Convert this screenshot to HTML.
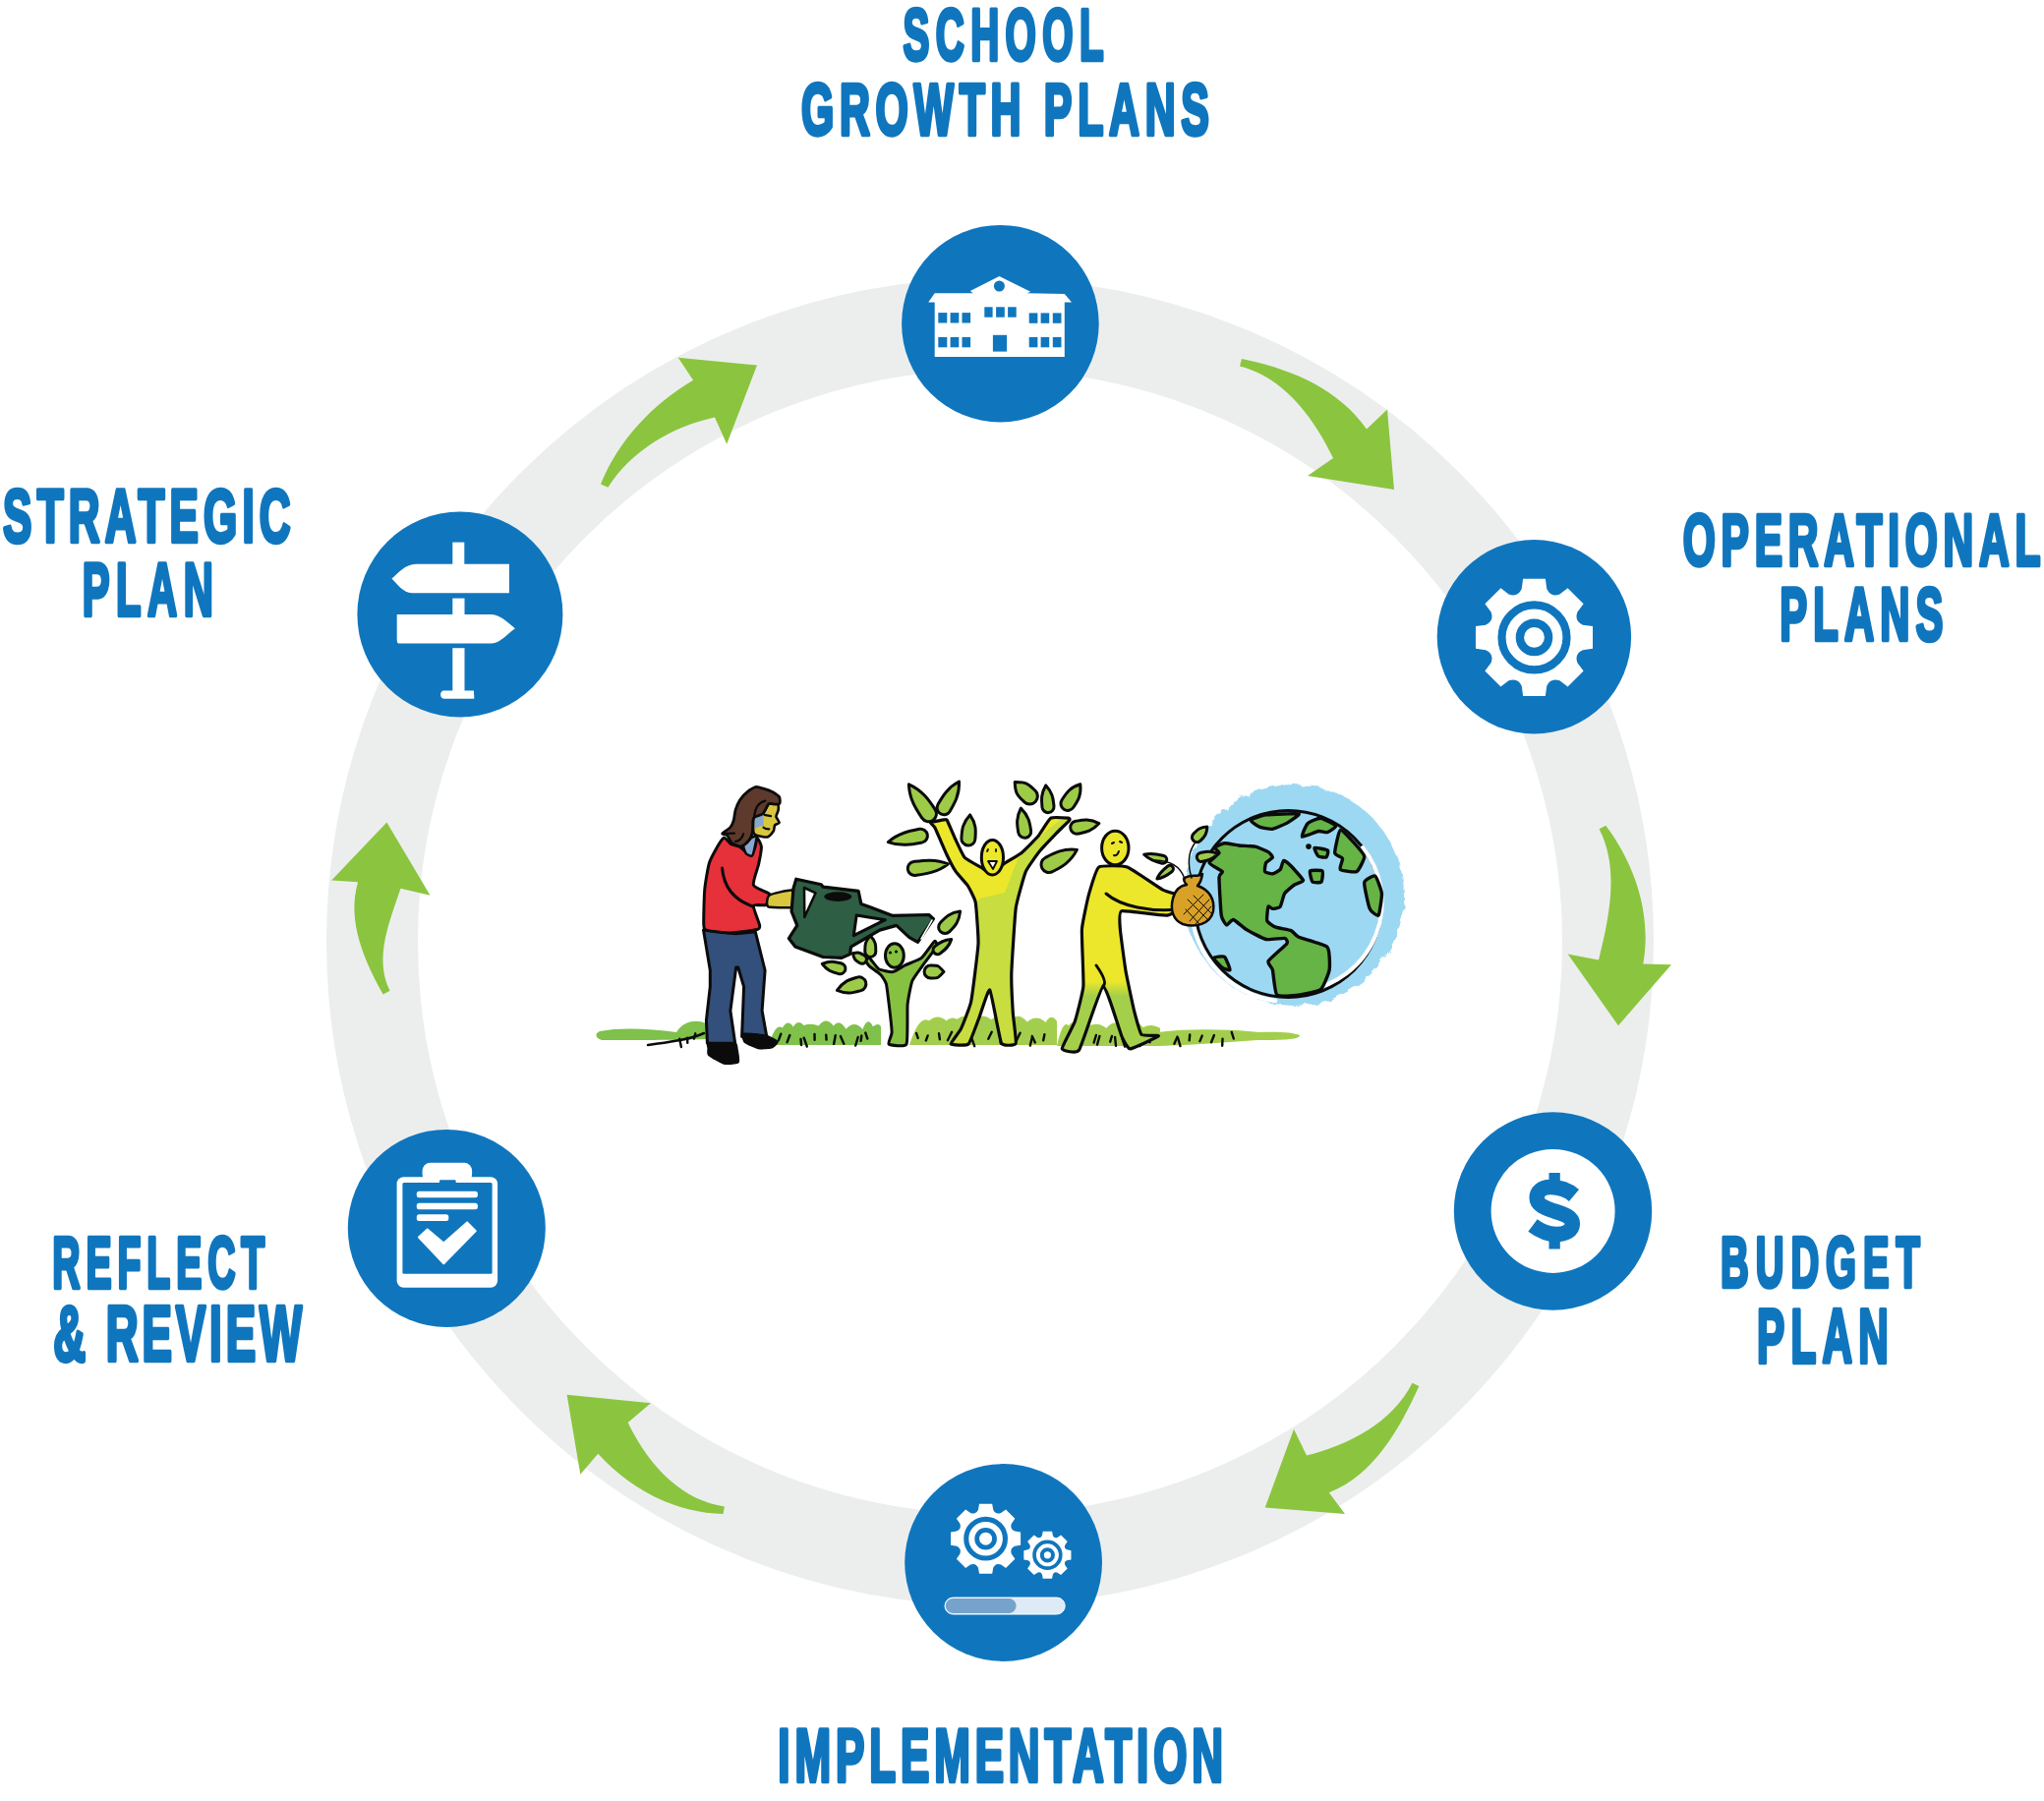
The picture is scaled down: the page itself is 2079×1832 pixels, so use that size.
<!DOCTYPE html>
<html>
<head>
<meta charset="utf-8">
<style>
html,body{margin:0;padding:0;background:#fff;}
body{width:2079px;height:1832px;overflow:hidden;position:relative;}
svg{position:absolute;left:0;top:0;display:block;}
.t{font-family:"Liberation Sans",sans-serif;font-weight:bold;fill:#0F76BE;stroke:#0F76BE;stroke-width:4.5;stroke-linejoin:round;}
</style>
</head>
<body>
<svg width="2079" height="1832" viewBox="0 0 2079 1832">
<!-- ring -->
<circle cx="1007" cy="958" r="628.5" fill="none" stroke="#ECEEEE" stroke-width="93"/>

<!-- arrows -->
<g fill="#8BC53F">
<path d="M1263.0,365.0 C1311.2,374.8 1360.9,394.5 1390.0,436.5 L1411.0,416.5 L1418.0,498.0 L1330.0,484.0 L1356.0,466.0 C1336.4,425.6 1306.9,384.5 1261.0,372.5Z"/>
<path d="M1633.3,839.7 C1663.3,879.6 1680.2,930.6 1671.3,980.6 L1700.0,981.2 L1646.0,1043.2 L1594.7,970.6 L1626.0,976.6 C1636.4,934.1 1647.7,884.3 1626.6,843.3Z"/>
<path d="M1436.4,1406.7 C1416.0,1447.6 1371.3,1469.7 1329.0,1480.6 L1316.0,1453.7 L1286.7,1533.6 L1368.0,1540.1 L1351.8,1518.3 C1398.1,1500.0 1423.7,1452.8 1443.4,1410.0Z"/>
<path d="M736.9,1532.4 C690.5,1525.7 657.8,1487.0 638.7,1447.0 L662.0,1427.2 L576.6,1418.8 L590.3,1499.8 L608.3,1478.7 C640.5,1514.3 686.6,1539.3 735.6,1539.9Z"/>
<path d="M389.6,1011.6 C370.9,977.6 352.3,936.9 364.1,897.3 L337.2,895.4 L393.4,836.6 L437.5,910.7 L407.5,903.7 C396.8,935.9 379.9,974.4 396.6,1007.7Z"/>
<path d="M611.0,492.4 C629.1,447.9 663.8,410.8 705.0,386.7 L689.8,363.7 L770.0,371.5 L739.2,451.8 L727.0,424.4 C684.0,433.8 642.3,457.9 618.4,495.8Z"/>
</g>

<!-- icon circles -->
<g fill="#0F76BE">
<circle cx="1017.4" cy="329.2" r="100.3"/>
<circle cx="467.9" cy="625" r="104.5"/>
<circle cx="1560.4" cy="647.8" r="98.7"/>
<circle cx="1579.5" cy="1232" r="100.7"/>
<circle cx="454.3" cy="1249.4" r="100.5"/>
<circle cx="1020.6" cy="1589.5" r="100.4"/>
</g>

<!-- labels -->
<g class="t">
<text transform="translate(918.53,61.35) scale(0.5456,1)" font-size="73.67" textLength="373.81" lengthAdjust="spacing">SCHOOL</text>
<text transform="translate(814.93,136.55) scale(0.5731,1)" font-size="74.71" textLength="724.00" lengthAdjust="spacing">GROWTH PLANS</text>
<text transform="translate(3.12,550.75) scale(0.5809,1)" font-size="75.77" textLength="503.59" lengthAdjust="spacing">STRATEGIC</text>
<text transform="translate(83.73,626.15) scale(0.5456,1)" font-size="76.40" textLength="244.05" lengthAdjust="spacing">PLAN</text>
<text transform="translate(1711.73,575.35) scale(0.5717,1)" font-size="74.32" textLength="636.23" lengthAdjust="spacing">OPERATIONAL</text>
<text transform="translate(1810.32,650.95) scale(0.5536,1)" font-size="75.49" textLength="300.13" lengthAdjust="spacing">PLANS</text>
<text transform="translate(1749.93,1309.35) scale(0.5467,1)" font-size="72.74" textLength="371.23" lengthAdjust="spacing">BUDGET</text>
<text transform="translate(1786.93,1385.55) scale(0.5465,1)" font-size="77.33" textLength="245.10" lengthAdjust="spacing">PLAN</text>
<text transform="translate(53.32,1310.35) scale(0.5256,1)" font-size="74.45" textLength="410.83" lengthAdjust="spacing">REFLECT</text>
<text transform="translate(54.32,1383.95) scale(0.5775,1)" font-size="79.06" textLength="437.65" lengthAdjust="spacing">&amp; REVIEW</text>
<text transform="translate(791.32,1811.95) scale(0.5732,1)" font-size="76.68" textLength="789.83" lengthAdjust="spacing">IMPLEMENTATION</text>
</g>

<!-- ICONS -->
<g fill="#fff">
<!-- school -->
<path d="M944.2,307.5 L950.7,298.2 L989.7,298.2 L986.8,296 L1016.4,281.1 L1048.2,296.7 L1044.6,298.2 L1082.8,298.9 L1090,307.5 L1082.8,307.5 L1082.8,363.1 L950.7,363.1 L950.7,307.5 Z"/>
</g>
<g fill="#0F76BE">
<circle cx="1016.4" cy="291" r="5.5"/>
<rect x="954.3" y="318.1" width="9" height="10.4"/><rect x="966.6" y="318.1" width="8.7" height="10.4"/><rect x="978.5" y="318.1" width="8.6" height="10.4"/>
<rect x="1001.3" y="312.3" width="8.3" height="10.4"/><rect x="1013.1" y="312.3" width="8.7" height="10.4"/><rect x="1025.1" y="312.3" width="8.6" height="10.4"/>
<rect x="1046.7" y="318.4" width="8.7" height="10.4"/><rect x="1058.6" y="318.4" width="8.6" height="10.4"/><rect x="1070.8" y="318.4" width="8.7" height="10.4"/>
<rect x="954.3" y="342.9" width="9" height="10.4"/><rect x="966.6" y="342.9" width="8.7" height="10.4"/><rect x="978.5" y="342.9" width="8.6" height="10.4"/>
<rect x="1046.7" y="342.9" width="8.7" height="10.4"/><rect x="1058.6" y="342.9" width="8.6" height="10.4"/><rect x="1070.8" y="342.9" width="8.7" height="10.4"/>
<rect x="1009.9" y="340.8" width="14.2" height="16.8"/>
</g>
<!-- signpost -->
<g fill="#fff">
<rect x="460.3" y="551.6" width="12" height="22.5"/>
<rect x="460.3" y="608.6" width="12.2" height="16.5"/>
<rect x="460.3" y="659.2" width="12.2" height="44"/>
<path d="M451.5,702.6 L481.9,702.6 L482.3,710.8 L451.5,710.8 C447,710.8 447,702.6 451.5,702.6 Z"/>
<path d="M398.4,588.6 C405,583 412,574 423,573.7 L517.9,573.7 L517.9,603.3 L419,603.3 C410,603 405,595 398.4,588.6 Z"/>
<path d="M403.7,624.9 L499.3,624.9 C508,625 515,632 523.9,639.3 C515,646 508,654.6 499.3,654.6 L406,654.6 C404,654.6 403.7,652 403.7,650 Z"/>
</g>
<!-- gear operational -->
<path fill="#fff" d="M1547.73,599.02 L1549.14,588.87 L1571.86,588.87 L1573.27,599.02 Q1577.28,607.88 1586.38,604.46 L1586.38,604.46 L1594.56,598.28 L1610.62,614.34 L1604.44,622.52 Q1601.02,631.62 1609.88,635.63 L1609.88,635.63 L1620.03,637.04 L1620.03,659.76 L1609.88,661.17 Q1601.02,665.18 1604.44,674.28 L1604.44,674.28 L1610.62,682.46 L1594.56,698.52 L1586.38,692.34 Q1577.28,688.92 1573.27,697.78 L1573.27,697.78 L1571.86,707.93 L1549.14,707.93 L1547.73,697.78 Q1543.72,688.92 1534.62,692.34 L1534.62,692.34 L1526.44,698.52 L1510.38,682.46 L1516.56,674.28 Q1519.98,665.18 1511.12,661.17 L1511.12,661.17 L1500.97,659.76 L1500.97,637.04 L1511.12,635.63 Q1519.98,631.62 1516.56,622.52 L1516.56,622.52 L1510.38,614.34 L1526.44,598.28 L1534.62,604.46 Q1543.72,607.88 1547.73,599.02Z"/>
<circle cx="1560.5" cy="648.4" r="33" fill="none" stroke="#0F76BE" stroke-width="8.2"/>
<circle cx="1560.5" cy="648.4" r="14.6" fill="none" stroke="#0F76BE" stroke-width="8.4"/>
<!-- budget -->
<circle cx="1579.6" cy="1231.9" r="63" fill="#fff"/>
<g fill="#0F76BE">
<rect x="1575.5" y="1193" width="11.3" height="12"/>
<rect x="1575.5" y="1258" width="11.3" height="12.5"/>
</g>
<path d="M1601,1216 C1594,1210 1585,1207.6 1577,1207.6 C1568,1207.6 1563.2,1212 1563.2,1218.5 C1563.2,1226 1572,1229 1581,1232 C1591,1235 1599.3,1238 1599.3,1245 C1599.3,1252 1592,1255.5 1583,1255.5 C1573,1255.5 1565,1251 1559,1246.5" fill="none" stroke="#0F76BE" stroke-width="15.5"/>
<!-- clipboard -->
<g fill="#fff">
<rect x="403.6" y="1197.2" width="102.5" height="112.6" rx="7"/>
<rect x="429.6" y="1182.8" width="50.5" height="20" rx="8"/>
</g>
<g fill="#0F76BE">
<rect x="409.4" y="1203" width="91.2" height="92.8" rx="1.5"/>
</g>
<g fill="#fff">
<rect x="447" y="1200.2" width="16.6" height="4" rx="1" fill="#0F76BE"/>
<rect x="423.8" y="1211.7" width="62.1" height="6.5" rx="2.5"/>
<rect x="423.8" y="1223.7" width="62.1" height="6.5" rx="2.5"/>
<rect x="423.8" y="1235.2" width="32.5" height="6.8" rx="2.5"/>
<path d="M426,1258.6 L434.7,1250.6 L451.3,1264.4 L475.1,1243.4 L483.8,1252.1 L451.3,1285.3 Z" stroke="#fff" stroke-width="2" stroke-linejoin="round"/>
</g>
<!-- implementation -->
<path fill="#fff" d="M994.96,1535.67 L996.02,1529.70 L1009.18,1529.70 L1010.24,1535.67 Q1012.64,1540.97 1018.08,1538.92 L1018.08,1538.92 L1023.05,1535.45 L1032.35,1544.75 L1028.88,1549.72 Q1026.83,1555.16 1032.13,1557.56 L1032.13,1557.56 L1038.10,1558.62 L1038.10,1571.78 L1032.13,1572.84 Q1026.83,1575.24 1028.88,1580.68 L1028.88,1580.68 L1032.35,1585.65 L1023.05,1594.95 L1018.08,1591.48 Q1012.64,1589.43 1010.24,1594.73 L1010.24,1594.73 L1009.18,1600.70 L996.02,1600.70 L994.96,1594.73 Q992.56,1589.43 987.12,1591.48 L987.12,1591.48 L982.15,1594.95 L972.85,1585.65 L976.32,1580.68 Q978.37,1575.24 973.07,1572.84 L973.07,1572.84 L967.10,1571.78 L967.10,1558.62 L973.07,1557.56 Q978.37,1555.16 976.32,1549.72 L976.32,1549.72 L972.85,1544.75 L982.15,1535.45 L987.12,1538.92 Q992.56,1540.97 994.96,1535.67Z"/>
<circle cx="1002.6" cy="1565.2" r="19.85" fill="none" stroke="#0F76BE" stroke-width="5.1"/>
<circle cx="1002.6" cy="1565.2" r="8.9" fill="none" stroke="#0F76BE" stroke-width="4.8"/>
<path fill="#fff" d="M1059.92,1562.05 L1060.73,1557.75 L1070.07,1557.75 L1070.88,1562.05 Q1072.30,1565.13 1075.49,1563.96 L1075.49,1563.96 L1079.10,1561.49 L1085.71,1568.10 L1083.24,1571.71 Q1082.07,1574.90 1085.15,1576.32 L1085.15,1576.32 L1089.45,1577.13 L1089.45,1586.47 L1085.15,1587.28 Q1082.07,1588.70 1083.24,1591.89 L1083.24,1591.89 L1085.71,1595.50 L1079.10,1602.11 L1075.49,1599.64 Q1072.30,1598.47 1070.88,1601.55 L1070.88,1601.55 L1070.07,1605.85 L1060.73,1605.85 L1059.92,1601.55 Q1058.50,1598.47 1055.31,1599.64 L1055.31,1599.64 L1051.70,1602.11 L1045.09,1595.50 L1047.56,1591.89 Q1048.73,1588.70 1045.65,1587.28 L1045.65,1587.28 L1041.35,1586.47 L1041.35,1577.13 L1045.65,1576.32 Q1048.73,1574.90 1047.56,1571.71 L1047.56,1571.71 L1045.09,1568.10 L1051.70,1561.49 L1055.31,1563.96 Q1058.50,1565.13 1059.92,1562.05Z"/>
<circle cx="1065.4" cy="1581.8" r="13.35" fill="none" stroke="#0F76BE" stroke-width="3.7"/>
<circle cx="1065.4" cy="1581.8" r="5.6" fill="none" stroke="#0F76BE" stroke-width="4"/>
<rect x="961" y="1625.1" width="122.2" height="16.9" rx="8.45" fill="#DDEBF7" stroke="#fff" stroke-width="1"/>
<rect x="961.8" y="1626" width="71.8" height="15" rx="7.5" fill="#76A3CC"/>













<!-- ILLUSTRATION -->
<g stroke-linejoin="round" stroke-linecap="round">
<defs><filter id="crayon" x="-10%" y="-10%" width="120%" height="120%"><feTurbulence type="fractalNoise" baseFrequency="0.09" numOctaves="2" seed="3"/><feDisplacementMap in="SourceGraphic" scale="7"/></filter></defs>
<ellipse cx="1316" cy="910.5" rx="112" ry="112.5" fill="#9DD8F3" filter="url(#crayon)"/>
<path d="M1297,1018 A99,99 0 0 1 1213,935" fill="none" stroke="#fff" stroke-width="4.5"/>
<circle cx="1310.3" cy="919.5" r="95" fill="#9DD8F3" stroke="#0b0b0b" stroke-width="3"/>
<path d="M1386,862 A90,90 0 0 1 1330,1007" fill="none" stroke="#fff" stroke-width="4"/>
<path d="M1245.5,857.8 C1247.5,857.6 1257.4,859.7 1260.0,860.0 C1262.6,860.3 1274.1,860.6 1276.6,861.1 C1279.1,861.6 1288.5,865.7 1290.0,866.6 C1291.5,867.5 1294.6,871.3 1294.4,872.2 C1294.2,873.1 1288.4,876.5 1287.7,877.7 C1287.0,878.9 1286.0,885.7 1286.6,886.6 C1287.2,887.5 1293.1,889.0 1294.4,888.8 C1295.7,888.6 1301.3,885.5 1302.2,884.4 C1303.1,883.3 1304.7,875.9 1305.5,875.5 C1306.3,875.1 1310.5,878.3 1312.2,880.0 C1313.9,881.7 1325.1,893.8 1325.5,895.5 C1325.9,897.2 1318.2,898.9 1316.6,900.0 C1315.0,901.1 1307.8,906.9 1306.6,908.8 C1305.4,910.6 1303.2,920.9 1302.2,922.2 C1301.2,923.5 1295.4,924.4 1294.4,924.4 C1293.4,924.4 1290.5,921.2 1290.0,922.2 C1289.5,923.2 1288.2,934.9 1288.8,936.6 C1289.4,938.4 1295.7,942.4 1297.7,943.2 C1299.7,944.0 1311.4,945.8 1313.3,946.6 C1315.2,947.4 1317.9,951.9 1321.0,953.3 C1324.1,954.7 1347.4,960.5 1350.0,963.3 C1352.6,966.1 1352.7,983.0 1352.1,986.6 C1351.5,990.2 1345.9,1004.5 1343.3,1006.6 C1340.7,1008.7 1324.7,1011.6 1321.0,1012.1 C1317.3,1012.6 1301.0,1014.2 1298.8,1012.1 C1296.6,1010.0 1295.1,989.5 1294.4,986.6 C1293.7,983.7 1288.8,979.9 1290.0,977.7 C1291.2,975.5 1307.4,961.8 1308.8,959.9 C1310.2,958.0 1308.4,954.8 1306.6,954.4 C1304.8,954.0 1290.9,956.2 1287.7,955.5 C1284.5,954.8 1270.5,947.2 1267.7,945.5 C1264.9,943.8 1256.1,935.9 1254.4,935.5 C1252.7,935.1 1248.7,941.4 1247.7,941.0 C1246.7,940.6 1242.8,935.1 1242.2,931.0 C1241.6,926.9 1239.9,895.9 1240.0,892.2 C1240.1,888.5 1244.1,887.8 1243.3,886.6 C1242.5,885.4 1230.3,879.3 1230.0,877.7 C1229.7,876.1 1239.5,869.0 1240.0,867.7 C1240.5,866.4 1235.0,863.0 1235.5,862.2 C1236.0,861.4 1243.5,858.0 1245.5,857.8Z" fill="#66B346" stroke="#0b0b0b" stroke-width="3.4"/>
<path d="M1272.2,834.4 C1272.8,833.4 1283.6,829.4 1287.7,828.9 C1291.8,828.4 1319.1,827.2 1321.0,827.8 C1322.9,828.4 1312.2,835.3 1310.0,836.6 C1307.8,837.9 1296.8,842.9 1294.4,843.3 C1292.0,843.7 1282.8,841.8 1281.0,841.1 C1279.2,840.4 1271.6,835.4 1272.2,834.4Z" fill="#66B346" stroke="#0b0b0b" stroke-width="3.4"/>
<path d="M1324.4,851.1 C1323.5,850.5 1328.4,839.3 1330.0,837.7 C1331.6,836.1 1340.9,832.0 1343.3,832.2 C1345.7,832.4 1358.2,838.8 1358.8,840.0 C1359.4,841.2 1351.5,846.1 1350.0,846.6 C1348.5,847.1 1343.1,845.1 1341.0,845.5 C1338.9,845.9 1325.3,851.8 1324.4,851.1Z" fill="#66B346" stroke="#0b0b0b" stroke-width="3.4"/>
<path d="M1357.7,867.7 C1357.5,865.3 1361.6,845.3 1363.2,844.4 C1364.8,843.5 1374.6,854.4 1376.6,856.6 C1378.6,858.8 1387.4,868.6 1387.7,871.1 C1388.0,873.6 1382.0,885.5 1380.0,886.6 C1378.0,887.7 1364.4,885.5 1363.2,884.4 C1362.0,883.3 1366.0,874.7 1365.5,873.3 C1365.0,871.9 1357.9,870.1 1357.7,867.7Z" fill="#66B346" stroke="#0b0b0b" stroke-width="3.4"/>
<path d="M1387.7,897.7 C1388.2,894.9 1397.3,890.2 1398.8,891.1 C1400.3,892.0 1405.1,905.5 1405.4,908.8 C1405.7,912.1 1403.1,929.7 1402.1,931.0 C1401.1,932.3 1394.4,927.2 1393.2,924.4 C1392.0,921.6 1387.2,900.5 1387.7,897.7Z" fill="#66B346" stroke="#0b0b0b" stroke-width="3.4"/>
<path d="M1234.4,974.4 C1234.6,973.5 1244.1,972.3 1245.5,973.3 C1246.9,974.3 1251.2,985.7 1251.0,986.6 C1250.8,987.5 1244.7,985.4 1243.3,984.4 C1241.9,983.4 1234.2,975.3 1234.4,974.4Z" fill="#66B346" stroke="#0b0b0b" stroke-width="3.4"/>
<path d="M1337.0,862.5 C1337.8,862.0 1349.5,864.2 1350.5,865.0 C1351.5,865.8 1349.8,871.5 1349.0,872.0 C1348.2,872.5 1342.0,871.8 1341.0,871.0 C1340.0,870.2 1336.2,863.0 1337.0,862.5Z" fill="#66B346" stroke="#0b0b0b" stroke-width="3.4"/>
<path d="M1332.5,886.0 C1333.3,885.1 1344.0,885.1 1345.0,886.0 C1346.0,886.9 1344.8,896.1 1344.0,897.0 C1343.2,897.9 1336.0,897.9 1335.0,897.0 C1334.0,896.1 1331.7,886.9 1332.5,886.0Z" fill="#66B346" stroke="#0b0b0b" stroke-width="3.4"/>
<circle cx="1331" cy="861.1" r="2.8" fill="#0b0b0b"/>
<g>
<path d="M610,1049 C630,1045 660,1046 688,1050 C694,1040 706,1036 718,1041 L718,1057 C690,1058 640,1058 612,1058 C605,1056 605,1051 610,1049Z" fill="#7FC14B"/>
<path d="M782,1063 Q788.9,1039.6 795.9,1045.6 Q801.3,1036.2 806.8,1044.5 Q812.1,1036.4 817.5,1043.1 Q825.1,1040.4 832.7,1043.4 Q840.2,1033.6 847.7,1043.5 Q854.1,1035.4 860.4,1046.8 Q868.9,1037.4 877.4,1046.9 Q882.6,1033.3 887.9,1044.2 Q893.8,1039.9 896.0,1044.2 L896,1063 Z" fill="#7FC14B"/>
<path d="M925,1063 Q934.9,1032.4 944.8,1038.3 Q953.6,1030.6 962.5,1038.2 Q967.8,1033.5 973.2,1036.8 Q982.3,1030.2 991.4,1037.3 Q999.9,1029.9 1008.4,1037.2 Q1018.2,1027.7 1027.9,1037.0 Q1036.4,1029.3 1044.8,1039.5 Q1054.2,1031.4 1063.6,1039.9 Q1069.3,1030.2 1075.0,1039.0 L1075,1063 Z" fill="#A3CE4D"/>
<path d="M1075,1064 Q1080.9,1036.6 1086.8,1043.2 Q1095.8,1034.1 1104.8,1045.3 Q1115.1,1038.2 1125.3,1045.8 Q1133.9,1035.8 1142.5,1044.8 Q1152.5,1032.5 1162.6,1044.9 Q1171.5,1040.5 1180.0,1045.8 L1180,1064 Z" fill="#A3CE4D"/>
<path d="M1178,1050 C1210,1046 1250,1047 1280,1050 C1300,1049 1315,1050 1322,1053 C1322,1058 1300,1058 1280,1058 C1250,1060 1220,1063 1178,1064 Z" fill="#A3CE4D"/>
</g>
<path d="M659,1063 C680,1060 700,1058 716,1051" fill="none" stroke="#0b0b0b" stroke-width="2.5"/>
<path d="M692.9,1065.1 L691.2,1056.8" stroke="#0b0b0b" stroke-width="2.4"/>
<path d="M699.3,1060.9 L699.1,1055.8" stroke="#0b0b0b" stroke-width="2.4"/>
<path d="M705.9,1056.6 L707.3,1051.3" stroke="#0b0b0b" stroke-width="2.4"/>
<path d="M791.8,1058.3 L794.3,1051.7" stroke="#0b0b0b" stroke-width="2.4"/>
<path d="M800.6,1060.2 L803.3,1053.0" stroke="#0b0b0b" stroke-width="2.4"/>
<path d="M815.0,1063.0 L814.5,1056.9" stroke="#0b0b0b" stroke-width="2.4"/>
<path d="M820.8,1064.5 L817.7,1055.7" stroke="#0b0b0b" stroke-width="2.4"/>
<path d="M828.6,1057.8 L828.5,1051.9" stroke="#0b0b0b" stroke-width="2.4"/>
<path d="M840.6,1057.6 L840.2,1052.6" stroke="#0b0b0b" stroke-width="2.4"/>
<path d="M848.1,1061.9 L849.8,1053.1" stroke="#0b0b0b" stroke-width="2.4"/>
<path d="M858.3,1061.8 L854.9,1054.1" stroke="#0b0b0b" stroke-width="2.4"/>
<path d="M870.2,1063.5 L872.7,1055.0" stroke="#0b0b0b" stroke-width="2.4"/>
<path d="M875.6,1058.9 L876.3,1053.5" stroke="#0b0b0b" stroke-width="2.4"/>
<path d="M882.3,1056.5 L880.3,1050.6" stroke="#0b0b0b" stroke-width="2.4"/>
<path d="M933.7,1055.9 L932.0,1050.9" stroke="#0b0b0b" stroke-width="2.4"/>
<path d="M941.8,1058.5 L943.7,1053.4" stroke="#0b0b0b" stroke-width="2.4"/>
<path d="M955.9,1057.2 L955.0,1051.2" stroke="#0b0b0b" stroke-width="2.4"/>
<path d="M963.9,1058.2 L968.1,1049.8" stroke="#0b0b0b" stroke-width="2.4"/>
<path d="M974.7,1059.5 L972.6,1054.2" stroke="#0b0b0b" stroke-width="2.4"/>
<path d="M983.7,1059.3 L980.9,1051.0" stroke="#0b0b0b" stroke-width="2.4"/>
<path d="M991.2,1064.2 L988.7,1057.1" stroke="#0b0b0b" stroke-width="2.4"/>
<path d="M1005.3,1056.8 L1008.7,1049.7" stroke="#0b0b0b" stroke-width="2.4"/>
<path d="M1017.9,1061.6 L1017.1,1055.5" stroke="#0b0b0b" stroke-width="2.4"/>
<path d="M1022.3,1062.7 L1024.3,1055.6" stroke="#0b0b0b" stroke-width="2.4"/>
<path d="M1033.6,1058.9 L1037.6,1050.7" stroke="#0b0b0b" stroke-width="2.4"/>
<path d="M1047.8,1063.6 L1049.8,1055.3" stroke="#0b0b0b" stroke-width="2.4"/>
<path d="M1052.8,1060.4 L1049.8,1053.9" stroke="#0b0b0b" stroke-width="2.4"/>
<path d="M1061.2,1058.3 L1062.4,1052.2" stroke="#0b0b0b" stroke-width="2.4"/>
<path d="M1087.5,1061.0 L1091.7,1052.2" stroke="#0b0b0b" stroke-width="2.4"/>
<path d="M1096.1,1058.9 L1094.5,1053.0" stroke="#0b0b0b" stroke-width="2.4"/>
<path d="M1099.5,1058.4 L1102.5,1050.9" stroke="#0b0b0b" stroke-width="2.4"/>
<path d="M1112.6,1060.6 L1114.9,1053.0" stroke="#0b0b0b" stroke-width="2.4"/>
<path d="M1116.0,1062.6 L1118.4,1054.0" stroke="#0b0b0b" stroke-width="2.4"/>
<path d="M1129.2,1059.7 L1130.9,1054.0" stroke="#0b0b0b" stroke-width="2.4"/>
<path d="M1135.0,1063.8 L1134.1,1055.0" stroke="#0b0b0b" stroke-width="2.4"/>
<path d="M1144.1,1064.5 L1141.5,1056.6" stroke="#0b0b0b" stroke-width="2.4"/>
<path d="M1150.8,1058.5 L1153.5,1049.9" stroke="#0b0b0b" stroke-width="2.4"/>
<path d="M1159.6,1064.1 L1161.0,1055.2" stroke="#0b0b0b" stroke-width="2.4"/>
<path d="M1169.6,1060.2 L1167.0,1054.6" stroke="#0b0b0b" stroke-width="2.4"/>
<path d="M1194.4,1061.8 L1197.5,1054.6" stroke="#0b0b0b" stroke-width="2.4"/>
<path d="M1200.5,1064.1 L1198.1,1055.8" stroke="#0b0b0b" stroke-width="2.4"/>
<path d="M1209.7,1058.3 L1210.2,1052.4" stroke="#0b0b0b" stroke-width="2.4"/>
<path d="M1220.4,1059.1 L1222.7,1053.6" stroke="#0b0b0b" stroke-width="2.4"/>
<path d="M1232.0,1060.3 L1234.9,1053.0" stroke="#0b0b0b" stroke-width="2.4"/>
<path d="M1243.2,1063.8 L1243.5,1056.8" stroke="#0b0b0b" stroke-width="2.4"/>
<path d="M1254.8,1056.5 L1252.7,1049.8" stroke="#0b0b0b" stroke-width="2.4"/>
<path d="M715.5,945.9 L748.7,949.8 L768.3,947.8 L778.1,987.0 L775.1,1028.1 L780.0,1055.5 L754.6,1054.5 L756.6,1003.6 L750.7,984.0 L748.7,984.0 L742.9,1028.1 L747.7,1061.3 L719.4,1061.3 L718.4,1037.8 L722.3,1003.6 L722.3,987.0Z" fill="#334F7B" stroke="#0b0b0b" stroke-width="3"/>
<path d="M720.4,1061.3 C723.2,1060.7 744.7,1059.8 747.7,1060.4 C750.7,1061.0 750.3,1065.2 750.7,1067.2 C751.1,1069.2 753.1,1079.3 751.7,1080.9 C750.3,1082.5 740.1,1083.6 737.0,1082.9 C733.9,1082.2 722.2,1075.7 720.4,1074.0 C718.6,1072.3 719.4,1067.5 719.4,1066.2 C719.4,1064.9 717.6,1061.9 720.4,1061.3Z" fill="#0b0b0b"/>
<path d="M755.6,1050.6 C757.8,1049.8 775.4,1051.6 779.0,1052.5 C782.6,1053.4 791.1,1058.0 791.8,1059.4 C792.5,1060.8 788.0,1065.4 785.9,1066.2 C783.8,1067.0 774.1,1067.8 771.2,1067.2 C768.3,1066.6 758.2,1062.1 756.6,1060.4 C755.0,1058.7 753.4,1051.4 755.6,1050.6Z" fill="#0b0b0b"/>
<path d="M736.3,852.2 C734.7,852.9 728.8,862.8 727.3,865.5 C725.8,868.2 722.2,874.8 721.1,878.8 C720.0,882.8 717.2,899.3 716.7,905.5 C716.2,911.7 715.5,936.9 715.8,941.0 C716.1,945.1 716.5,945.6 719.3,946.4 C722.0,947.2 738.2,949.1 743.3,949.0 C748.4,948.9 767.1,946.3 770.0,945.5 C772.9,944.7 773.0,943.4 772.6,941.0 C772.2,938.6 765.8,923.5 766.4,921.5 C767.0,919.5 777.2,921.4 778.8,920.6 C780.4,919.8 782.0,914.6 782.4,913.5 C782.8,912.4 784.0,910.4 782.4,909.1 C780.8,907.8 767.5,903.2 766.4,900.2 C765.3,897.2 770.9,882.7 771.7,878.8 C772.5,874.9 774.6,863.8 774.4,861.1 C774.2,858.4 770.6,852.2 770.0,852.2 C769.4,852.2 768.8,859.3 768.2,861.1 C767.6,862.9 764.8,869.6 763.7,870.0 C762.6,870.4 758.6,866.4 757.5,865.5 C756.4,864.6 753.6,861.8 752.2,861.1 C750.8,860.4 744.9,859.3 743.3,858.4 C741.7,857.5 737.9,851.5 736.3,852.2Z" fill="#E6303A" stroke="#0b0b0b" stroke-width="3"/>
<path d="M734.5,883 C736,900 745,915 766,922" fill="none" stroke="#0b0b0b" stroke-width="3"/>
<path d="M763.2,852.8 C764.5,851.9 768.9,849.7 769.4,850.6 C769.9,851.5 768.1,859.7 767.7,861.7 C767.3,863.7 765.9,869.9 765.0,870.6 C764.1,871.3 759.7,869.4 758.8,868.3 C757.9,867.2 755.7,860.9 756.1,859.4 C756.5,857.9 761.9,853.7 763.2,852.8Z" fill="#87A9D0" stroke="#0b0b0b" stroke-width="2.5"/>
<path d="M781.9,817.7 C783.4,816.7 789.8,816.6 790.8,817.2 C791.8,817.8 791.8,822.6 791.7,823.9 C791.6,825.2 789.3,829.3 789.4,830.6 C789.5,831.9 792.7,835.9 792.6,836.8 C792.5,837.7 788.7,838.6 788.1,839.4 C787.5,840.2 787.5,844.0 786.8,845.2 C786.0,846.4 782.3,850.9 780.6,851.4 C778.9,851.9 770.8,850.2 769.4,849.7 C768.0,849.2 766.5,848.0 766.3,846.1 C766.1,844.2 766.2,832.5 767.2,830.6 C768.2,828.7 774.6,828.7 776.1,827.4 C777.6,826.1 780.4,818.7 781.9,817.7Z" fill="#D9C640" stroke="#0b0b0b" stroke-width="2.6"/>
<path d="M767.2,830.6 L776.6,827.4 L776.6,840.3 C772,840 769,842 767.7,843.9 Z" fill="#87A9D0"/>
<path d="M769.4,800.3 C771.8,800.3 782.7,804.2 785.0,805.2 C787.3,806.2 791.8,809.4 792.6,810.6 C793.4,811.8 793.5,816.5 793.0,817.2 C792.5,818.0 789.2,818.1 788.1,818.1 C787.0,818.1 783.1,816.8 781.9,817.7 C780.7,818.6 777.6,826.0 776.1,827.4 C774.6,828.8 768.2,830.6 767.2,831.4 C766.2,832.2 766.1,833.5 765.9,835.0 C765.7,836.5 765.7,844.3 765.4,846.1 C765.1,847.9 764.0,851.5 763.2,852.8 C762.4,854.1 758.1,858.6 757.0,859.4 C755.9,860.2 753.0,861.0 751.7,860.8 C750.4,860.6 745.3,858.3 744.1,857.2 C742.9,856.1 740.6,850.6 739.7,849.7 C738.8,848.8 734.5,848.7 734.8,847.9 C735.1,847.1 741.6,843.1 742.8,841.7 C743.9,840.3 745.8,835.9 746.3,834.1 C746.8,832.3 747.5,825.9 748.1,823.9 C748.7,821.9 751.4,815.6 752.6,813.7 C753.9,811.8 758.9,806.5 760.6,805.2 C762.3,803.9 767.0,800.3 769.4,800.3Z" fill="#5D3A2C" stroke="#0b0b0b" stroke-width="2.8"/>
<path d="M778.3,814.6 C772,816 768,822 767.2,830.6 M756.1,848.3 C755,853 751,856 748.1,855.9 M734.8,847.9 L747,847.7" fill="none" stroke="#0b0b0b" stroke-width="2.2"/>
<path d="M777.4,828.8 L784.1,830.1 M776.6,841.7 C778,843 780,843.5 782.3,843.4" fill="none" stroke="#0b0b0b" stroke-width="2.2"/>
<path d="M782.4,910.8 C784.8,909.1 802.0,905.2 805.5,905.5 C809.0,905.8 815.9,911.7 817.0,913.5 C818.1,915.3 817.4,922.3 816.2,923.3 C815.1,924.3 809.0,923.4 805.5,923.3 C802.0,923.2 783.8,923.6 781.5,922.4 C779.2,921.1 780.0,912.5 782.4,910.8Z" fill="#D9C640" stroke="#0b0b0b" stroke-width="2.5"/>
<path d="M809.8,894.2 L835.3,899.8 L837.2,902.2 L873.1,906.4 L875.9,919.6 L884.4,922.5 L908.0,931.4 L944.8,930.5 L949.5,934.7 L933.5,958.3 L925.0,953.6 L911.8,941.4 L894.8,946.1 L865.5,963.1 L864.6,970.6 L856.1,974.4 L837.2,973.5 L808.9,963.1 L802.3,954.6 L810.8,941.4 L805.1,927.2 L807.0,903.6Z" fill="#2E5E44" stroke="#0b0b0b" stroke-width="3.2"/>
<path d="M818,903 L829.6,908.3 L818.3,932.9 Z" fill="#fff" stroke="#0b0b0b" stroke-width="2.5"/>
<path d="M871.2,931 L900.4,935.7 L868.3,951.7 Z" fill="#fff" stroke="#0b0b0b" stroke-width="3"/>
<ellipse cx="852.3" cy="912.1" rx="14" ry="4.8" fill="#0b0b0b"/>
<path d="M937,955 L948,936" stroke="#fff" stroke-width="1.5"/>
<path d="M880.6,977.2 C880.6,977.9 883.1,981.7 884.4,982.9 C885.7,984.1 894.3,989.9 895.7,991.4 C897.1,992.9 900.7,998.3 901.4,1000.8 C902.1,1003.3 903.7,1017.5 904.2,1021.6 C904.7,1025.7 907.1,1046.6 907.1,1050.0 C907.1,1053.4 902.8,1061.0 904.0,1062.0 C905.2,1063.0 920.4,1065.4 922.0,1062.0 C923.6,1058.6 922.6,1026.9 923.1,1021.6 C923.6,1016.3 926.6,1001.1 927.8,998.0 C929.0,994.9 935.2,986.7 937.3,983.8 C939.3,980.9 951.3,965.3 952.4,963.1 C953.5,960.9 951.8,956.5 950.5,957.4 C949.2,958.3 939.8,972.4 937.3,974.4 C934.8,976.4 922.7,980.8 920.3,982.0 C917.9,983.2 910.2,988.3 908.0,988.6 C905.8,988.9 895.8,986.9 893.8,985.7 C891.8,984.5 885.5,975.1 884.4,974.4 C883.3,973.7 880.6,976.5 880.6,977.2Z" fill="#86C141" stroke="#0b0b0b" stroke-width="3"/>
<ellipse cx="909.9" cy="972" rx="9.4" ry="12.3" fill="#86C141" stroke="#0b0b0b" stroke-width="3"/>
<circle cx="905.5" cy="969" r="1.6" fill="#0b0b0b"/><circle cx="911.5" cy="968" r="1.6" fill="#0b0b0b"/>
<defs><linearGradient id="yg" x1="0" y1="0" x2="0" y2="1"><stop offset="0" stop-color="#ECE72B"/><stop offset="0.34" stop-color="#ECE72B"/><stop offset="0.44" stop-color="#C9DD40"/><stop offset="1" stop-color="#C5DC3E"/></linearGradient><linearGradient id="yg2" x1="0" y1="0" x2="0" y2="1"><stop offset="0" stop-color="#ECE72B"/><stop offset="0.62" stop-color="#ECE72B"/><stop offset="0.7" stop-color="#A4CF4B"/><stop offset="1" stop-color="#A4CF4B"/></linearGradient></defs>
<clipPath id="bigclip"><path d="M946.6,836.6 C947.2,836.0 959.5,834.0 960.6,833.9 C961.7,833.8 962.6,833.2 963.3,834.4 C964.0,835.6 969.9,849.7 971.1,852.2 C972.3,854.7 979.3,870.2 981.1,872.2 C982.9,874.2 995.8,881.1 997.7,882.2 C999.6,883.3 1007.4,889.2 1009.0,889.0 C1010.6,888.8 1019.0,880.2 1021.0,878.8 C1023.0,877.4 1036.5,869.5 1038.8,867.7 C1041.1,865.9 1053.5,853.5 1055.5,851.1 C1057.5,848.7 1066.7,833.5 1068.8,832.2 C1070.9,830.9 1085.3,832.1 1086.6,832.2 C1087.9,832.3 1088.5,833.4 1087.7,834.4 C1086.9,835.4 1076.4,845.6 1074.4,847.7 C1072.4,849.8 1059.8,862.9 1057.7,865.5 C1055.6,868.1 1044.9,882.7 1043.3,886.6 C1041.7,890.5 1034.3,916.4 1033.3,923.3 C1032.3,930.2 1029.0,982.9 1028.8,990.0 C1028.6,997.1 1030.0,1025.7 1030.3,1030.5 C1030.6,1035.3 1034.0,1059.3 1033.2,1061.3 C1032.4,1063.3 1020.3,1064.6 1018.5,1061.0 C1016.7,1057.4 1008.3,1008.7 1006.8,1007.0 C1005.3,1005.3 997.5,1031.3 996.0,1035.0 C994.5,1038.7 986.9,1060.2 985.0,1062.0 C983.1,1063.8 967.6,1063.0 967.1,1062.0 C966.6,1061.0 976.0,1049.5 977.4,1046.6 C978.8,1043.7 986.5,1024.5 987.7,1018.7 C988.9,1012.9 994.7,966.7 995.0,960.0 C995.3,953.3 992.9,921.6 992.2,917.7 C991.5,913.8 985.7,903.1 984.4,901.0 C983.1,898.9 973.7,888.8 972.2,886.6 C970.7,884.4 963.6,870.7 962.2,867.7 C960.8,864.7 952.1,844.3 951.1,842.2 C950.1,840.1 946.0,837.2 946.6,836.6Z"/></clipPath>
<path d="M946.6,836.6 C947.2,836.0 959.5,834.0 960.6,833.9 C961.7,833.8 962.6,833.2 963.3,834.4 C964.0,835.6 969.9,849.7 971.1,852.2 C972.3,854.7 979.3,870.2 981.1,872.2 C982.9,874.2 995.8,881.1 997.7,882.2 C999.6,883.3 1007.4,889.2 1009.0,889.0 C1010.6,888.8 1019.0,880.2 1021.0,878.8 C1023.0,877.4 1036.5,869.5 1038.8,867.7 C1041.1,865.9 1053.5,853.5 1055.5,851.1 C1057.5,848.7 1066.7,833.5 1068.8,832.2 C1070.9,830.9 1085.3,832.1 1086.6,832.2 C1087.9,832.3 1088.5,833.4 1087.7,834.4 C1086.9,835.4 1076.4,845.6 1074.4,847.7 C1072.4,849.8 1059.8,862.9 1057.7,865.5 C1055.6,868.1 1044.9,882.7 1043.3,886.6 C1041.7,890.5 1034.3,916.4 1033.3,923.3 C1032.3,930.2 1029.0,982.9 1028.8,990.0 C1028.6,997.1 1030.0,1025.7 1030.3,1030.5 C1030.6,1035.3 1034.0,1059.3 1033.2,1061.3 C1032.4,1063.3 1020.3,1064.6 1018.5,1061.0 C1016.7,1057.4 1008.3,1008.7 1006.8,1007.0 C1005.3,1005.3 997.5,1031.3 996.0,1035.0 C994.5,1038.7 986.9,1060.2 985.0,1062.0 C983.1,1063.8 967.6,1063.0 967.1,1062.0 C966.6,1061.0 976.0,1049.5 977.4,1046.6 C978.8,1043.7 986.5,1024.5 987.7,1018.7 C988.9,1012.9 994.7,966.7 995.0,960.0 C995.3,953.3 992.9,921.6 992.2,917.7 C991.5,913.8 985.7,903.1 984.4,901.0 C983.1,898.9 973.7,888.8 972.2,886.6 C970.7,884.4 963.6,870.7 962.2,867.7 C960.8,864.7 952.1,844.3 951.1,842.2 C950.1,840.1 946.0,837.2 946.6,836.6Z" fill="#ECE72B"/>
<path clip-path="url(#bigclip)" d="M1084,830 L1096,836 L1052,878 L1040,912 L1036,1075 L955,1075 L988,930 L996,914 L1022,908 L1036,872 L1068,842 Z" fill="#C7DD40"/>
<path d="M946.6,836.6 C947.2,836.0 959.5,834.0 960.6,833.9 C961.7,833.8 962.6,833.2 963.3,834.4 C964.0,835.6 969.9,849.7 971.1,852.2 C972.3,854.7 979.3,870.2 981.1,872.2 C982.9,874.2 995.8,881.1 997.7,882.2 C999.6,883.3 1007.4,889.2 1009.0,889.0 C1010.6,888.8 1019.0,880.2 1021.0,878.8 C1023.0,877.4 1036.5,869.5 1038.8,867.7 C1041.1,865.9 1053.5,853.5 1055.5,851.1 C1057.5,848.7 1066.7,833.5 1068.8,832.2 C1070.9,830.9 1085.3,832.1 1086.6,832.2 C1087.9,832.3 1088.5,833.4 1087.7,834.4 C1086.9,835.4 1076.4,845.6 1074.4,847.7 C1072.4,849.8 1059.8,862.9 1057.7,865.5 C1055.6,868.1 1044.9,882.7 1043.3,886.6 C1041.7,890.5 1034.3,916.4 1033.3,923.3 C1032.3,930.2 1029.0,982.9 1028.8,990.0 C1028.6,997.1 1030.0,1025.7 1030.3,1030.5 C1030.6,1035.3 1034.0,1059.3 1033.2,1061.3 C1032.4,1063.3 1020.3,1064.6 1018.5,1061.0 C1016.7,1057.4 1008.3,1008.7 1006.8,1007.0 C1005.3,1005.3 997.5,1031.3 996.0,1035.0 C994.5,1038.7 986.9,1060.2 985.0,1062.0 C983.1,1063.8 967.6,1063.0 967.1,1062.0 C966.6,1061.0 976.0,1049.5 977.4,1046.6 C978.8,1043.7 986.5,1024.5 987.7,1018.7 C988.9,1012.9 994.7,966.7 995.0,960.0 C995.3,953.3 992.9,921.6 992.2,917.7 C991.5,913.8 985.7,903.1 984.4,901.0 C983.1,898.9 973.7,888.8 972.2,886.6 C970.7,884.4 963.6,870.7 962.2,867.7 C960.8,864.7 952.1,844.3 951.1,842.2 C950.1,840.1 946.0,837.2 946.6,836.6Z" fill="none" stroke="#0b0b0b" stroke-width="3.2"/>
<ellipse cx="1009.4" cy="872.2" rx="11.1" ry="17.8" fill="#ECE72B" stroke="#0b0b0b" stroke-width="3"/>
<path d="M1004,866 L1005,864 M1013,866 L1013,864" stroke="#0b0b0b" stroke-width="1.8"/>
<path d="M1005,876 L1014,876 L1010,884 Z" fill="#fff" stroke="#0b0b0b" stroke-width="1.8"/>
<path d="M1117.7,882.0 C1120.3,880.2 1142.3,880.5 1146.6,882.0 C1150.9,883.5 1178.9,903.2 1182.7,905.1 C1186.5,907.0 1201.5,911.0 1202.9,910.8 C1204.3,910.6 1203.9,901.7 1204.4,902.2 C1204.9,902.7 1211.2,916.1 1210.0,918.0 C1208.8,919.9 1191.6,930.5 1187.0,931.1 C1182.4,931.7 1144.0,925.7 1140.8,926.7 C1137.6,927.7 1139.1,941.4 1139.4,945.5 C1139.7,949.6 1144.2,983.2 1145.2,988.8 C1146.2,994.4 1152.7,1025.0 1153.8,1029.2 C1154.9,1033.4 1159.4,1050.7 1161.0,1052.3 C1162.6,1053.9 1179.2,1052.8 1178.4,1053.8 C1177.6,1054.8 1152.0,1066.8 1149.5,1066.8 C1147.0,1066.8 1142.6,1058.0 1140.8,1053.8 C1139.0,1049.6 1125.0,1002.2 1122.1,1003.2 C1119.2,1004.2 1100.3,1064.0 1097.5,1068.2 C1094.7,1072.4 1080.5,1068.7 1080.2,1066.8 C1079.9,1064.9 1091.8,1043.5 1093.2,1039.3 C1094.6,1035.1 1101.4,1009.5 1101.9,1003.2 C1102.4,996.9 1100.0,951.8 1100.4,945.5 C1100.8,939.2 1106.4,913.6 1107.6,909.4 C1108.8,905.2 1115.1,883.8 1117.7,882.0Z" fill="url(#yg2)" stroke="#0b0b0b" stroke-width="3.2"/>
<path d="M1125,909 C1140,922 1170,928 1200,925" fill="none" stroke="#0b0b0b" stroke-width="3"/>
<path d="M1115,982 C1122,992 1126,1000 1122,1003" fill="none" stroke="#0b0b0b" stroke-width="3"/>
<ellipse cx="1134.3" cy="862.5" rx="13.7" ry="17.3" fill="#ECE72B" stroke="#0b0b0b" stroke-width="3"/>
<path d="M1131,858 L1133,857 M1139,856 L1141,857 M1138,866 C1137,869 1135,871 1133,870" fill="none" stroke="#0b0b0b" stroke-width="2"/>
<path d="M1204,894 C1210,888 1218,893 1223,889 C1222,896 1220,899 1218,901 C1230,905 1236,915 1234,927 C1231,940 1216,944 1203,940 C1193,936 1190,925 1193,914 C1195,906 1200,901 1207,900 C1205,898 1204,896 1204,894Z" fill="#D9A128" stroke="#0b0b0b" stroke-width="2.5"/>
<path d="M1208,915 L1228,935 M1214,911 L1232,929 M1206,925 L1220,940 M1210,937 L1230,915 M1216,940 L1232,922 M1204,930 L1224,910" stroke="#0b0b0b" stroke-width="1" fill="none"/>
<path d="M924.4,797.8 C924.8,813.5 932.5,824.2 937.8,832.2 C940.3,835.9 945.2,836.9 948.9,834.4 C952.6,831.9 953.6,827.0 951.1,823.3 C945.8,815.3 938.7,804.1 924.4,797.8Z" fill="#9DCB48" stroke="#0b0b0b" stroke-width="3"/>
<path d="M975.5,795.0 C963.5,801.2 958.2,811.0 954.0,818.2 C952.1,821.6 953.3,825.9 956.6,827.8 C959.9,829.7 964.2,828.6 966.2,825.2 C970.4,818.0 976.2,808.5 975.5,795.0Z" fill="#9DCB48" stroke="#0b0b0b" stroke-width="3"/>
<path d="M903.3,856.6 C916.7,861.5 929.5,858.7 937.7,857.1 C941.5,856.4 944.0,852.7 943.3,848.9 C942.6,845.1 938.9,842.6 935.1,843.3 C926.9,844.9 913.9,847.1 903.3,856.6Z" fill="#9DCB48" stroke="#0b0b0b" stroke-width="3"/>
<path d="M964.4,878.8 C951.1,873.2 937.6,875.4 929.3,876.5 C925.5,877.0 922.8,880.6 923.3,884.4 C923.8,888.2 927.4,890.9 931.2,890.4 C939.5,889.3 953.1,887.8 964.4,878.8Z" fill="#9DCB48" stroke="#0b0b0b" stroke-width="3"/>
<path d="M986.6,828.9 C978.6,837.7 978.5,844.1 977.9,852.5 C977.6,856.4 980.5,859.7 984.4,860.0 C988.3,860.3 991.6,857.4 991.9,853.5 C992.5,845.1 993.3,838.7 986.6,828.9Z" fill="#9DCB48" stroke="#0b0b0b" stroke-width="3"/>
<path d="M1032.2,795.6 C1032.7,807.7 1034.9,809.2 1041.9,815.8 C1045.1,818.8 1050.2,818.7 1053.2,815.5 C1056.2,812.3 1056.1,807.2 1052.9,804.2 C1045.9,797.6 1044.3,795.5 1032.2,795.6Z" fill="#9DCB48" stroke="#0b0b0b" stroke-width="3"/>
<path d="M1063.8,798.9 C1058.4,807.8 1059.3,814.1 1060.0,821.2 C1060.4,824.5 1063.3,826.9 1066.6,826.6 C1069.9,826.3 1072.3,823.3 1072.0,820.0 C1071.2,812.9 1070.9,806.6 1063.8,798.9Z" fill="#9DCB48" stroke="#0b0b0b" stroke-width="3"/>
<path d="M1098.8,797.8 C1087.6,801.4 1084.7,806.6 1080.1,813.6 C1078.0,816.8 1078.9,821.2 1082.1,823.3 C1085.3,825.4 1089.7,824.5 1091.8,821.3 C1096.4,814.3 1099.9,809.5 1098.8,797.8Z" fill="#9DCB48" stroke="#0b0b0b" stroke-width="3"/>
<path d="M1038.3,822.2 C1033.1,832.3 1034.5,839.2 1035.8,846.9 C1036.4,850.4 1039.8,852.8 1043.3,852.2 C1046.8,851.6 1049.2,848.3 1048.6,844.7 C1047.4,837.0 1046.5,830.1 1038.3,822.2Z" fill="#9DCB48" stroke="#0b0b0b" stroke-width="3"/>
<path d="M1095.4,864.4 C1080.8,862.7 1071.7,868.0 1063.2,872.5 C1059.3,874.6 1057.8,879.4 1059.9,883.3 C1062.0,887.2 1066.8,888.7 1070.7,886.6 C1079.2,882.1 1088.7,877.5 1095.4,864.4Z" fill="#9DCB48" stroke="#0b0b0b" stroke-width="3"/>
<path d="M1117.9,837.6 C1108.0,832.4 1101.7,833.9 1094.1,835.3 C1090.5,835.9 1088.2,839.3 1088.8,842.8 C1089.4,846.3 1092.8,848.7 1096.3,848.1 C1104.0,846.7 1110.4,845.9 1117.9,837.6Z" fill="#9DCB48" stroke="#0b0b0b" stroke-width="3"/>
<path d="M976.6,927.1 C965.7,928.5 961.9,932.9 956.5,938.5 C954.0,941.1 954.0,945.2 956.6,947.7 C959.2,950.2 963.3,950.1 965.8,947.6 C971.2,942.0 975.5,938.0 976.6,927.1Z" fill="#9DCB48" stroke="#0b0b0b" stroke-width="3"/>
<path d="M967.7,955.5 C959.5,955.8 955.1,959.4 950.8,962.7 C948.9,964.2 948.5,967.0 950.0,969.0 C951.5,971.0 954.3,971.4 956.3,969.8 C960.6,966.6 965.3,963.3 967.7,955.5Z" fill="#9DCB48" stroke="#0b0b0b" stroke-width="3"/>
<path d="M836.3,980.5 C841.9,987.9 846.7,988.9 853.1,990.6 C856.0,991.4 859.0,989.6 859.8,986.7 C860.6,983.8 858.8,980.8 855.9,980.0 C849.5,978.3 844.8,976.8 836.3,980.5Z" fill="#9DCB48" stroke="#0b0b0b" stroke-width="3"/>
<path d="M851.4,1007.4 C862.2,1011.9 867.8,1009.9 875.8,1007.6 C879.5,1006.5 881.7,1002.6 880.6,998.9 C879.5,995.2 875.6,993.1 871.9,994.1 C863.9,996.5 858.1,997.8 851.4,1007.4Z" fill="#9DCB48" stroke="#0b0b0b" stroke-width="3"/>
<path d="M885.3,951.7 C879.5,958.2 879.8,961.3 879.8,967.9 C879.8,970.9 882.3,973.4 885.3,973.4 C888.3,973.4 890.8,970.9 890.8,967.9 C890.8,961.3 891.1,958.2 885.3,951.7Z" fill="#9DCB48" stroke="#0b0b0b" stroke-width="3"/>
<path d="M867.4,969.7 C868.8,976.2 869.8,976.6 874.4,979.5 C876.5,980.9 879.3,980.3 880.6,978.2 C881.9,976.1 881.3,973.3 879.3,972.0 C874.7,969.1 873.9,968.3 867.4,969.7Z" fill="#9DCB48" stroke="#0b0b0b" stroke-width="3"/>
<path d="M960.0,988.5 C954.0,981.7 954.4,982.0 946.6,982.0 C943.0,982.0 940.1,984.9 940.1,988.5 C940.1,992.1 943.0,995.0 946.6,995.0 C954.4,995.0 954.0,995.3 960.0,988.5Z" fill="#9DCB48" stroke="#0b0b0b" stroke-width="3"/>
<path d="M1163.7,869.3 C1169.5,875.2 1177.1,877.0 1181.7,878.2 C1183.8,878.8 1186.0,877.5 1186.6,875.4 C1187.2,873.3 1185.9,871.1 1183.8,870.5 C1179.1,869.3 1171.7,867.1 1163.7,869.3Z" fill="#9DCB48" stroke="#0b0b0b" stroke-width="3"/>
<path d="M1176.9,893.9 C1183.9,893.1 1188.8,889.1 1192.1,886.5 C1193.6,885.3 1193.9,883.1 1192.7,881.6 C1191.5,880.1 1189.3,879.8 1187.8,881.0 C1184.5,883.6 1179.4,887.3 1176.9,893.9Z" fill="#9DCB48" stroke="#0b0b0b" stroke-width="3"/>
<path d="M1227.9,841.1 C1220.0,841.6 1218.1,843.9 1213.9,848.1 C1211.9,850.1 1211.9,853.3 1213.9,855.2 C1215.9,857.1 1219.0,857.1 1221.0,855.2 C1225.2,850.9 1227.4,849.0 1227.9,841.1Z" fill="#9DCB48" stroke="#0b0b0b" stroke-width="3"/>
<path d="M1238.5,868.4 C1231.2,865.1 1226.2,866.4 1220.9,867.5 C1218.5,868.0 1216.9,870.4 1217.4,872.8 C1217.9,875.2 1220.3,876.8 1222.7,876.3 C1228.0,875.2 1233.1,874.3 1238.5,868.4Z" fill="#9DCB48" stroke="#0b0b0b" stroke-width="3"/>
<path d="M1205,894 C1200,880 1190,876 1175,875 M1212,893 C1208,880 1208,868 1215,858" fill="none" stroke="#0b0b0b" stroke-width="1.5"/>
</g>
<!-- /ILLUSTRATION -->
</svg>
</body>
</html>
